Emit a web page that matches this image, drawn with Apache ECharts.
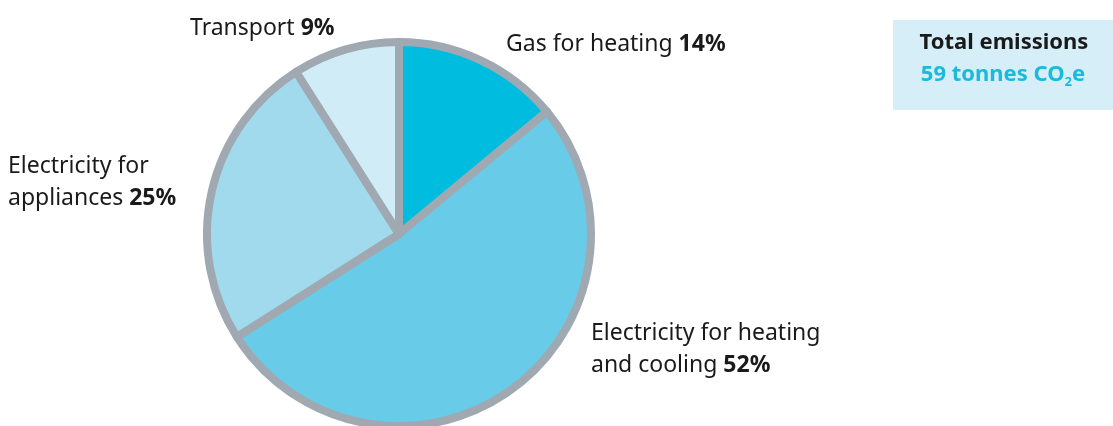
<!DOCTYPE html>
<html lang="en">
<head>
    <meta charset="UTF-8">
    <title>Emissions</title>
    <script src="https://cdn.jsdelivr.net/npm/echarts@6/dist/echarts.min.js"></script>
    <style>
        body { margin: 0; background: #fff; }
        #chart { width: 1113px; height: 426px; }
    </style>
</head>
<body>
    <div id="chart"></div>
    <script type="text/javascript">
        // data
        var names = ['Gas for heating', 'Electricity for heating\nand cooling', 'Electricity for\nappliances', 'Transport'];
        var shares = [14, 52, 25, 9];
        var colors = ['#00bde0', '#68cbe7', '#a1daed', '#d0ecf6'];
        var totalTitle = 'Total emissions';
        var totalValue = '59 tonnes CO';

        // label anchor points (left x, middle y)
        var labelPos = [[506, 44], [591, 349], [8, 182], [190, 28]];

        var font = '"Noto Sans", sans-serif';
        var chart = echarts.init(document.getElementById('chart'));

        chart.setOption({
            animation: false,
            series: [{
                type: 'pie',
                center: [399, 234],
                radius: [0, 192],
                startAngle: 90,
                clockwise: true,
                silent: true,
                data: names.map(function (n, i) {
                    return { name: n, value: shares[i], itemStyle: { color: colors[i] } };
                }),
                itemStyle: { borderColor: '#a0a9b1', borderWidth: 8 },
                labelLine: { show: false },
                label: {
                    show: true,
                    position: 'outside',
                    overflow: 'none',
                    width: 400,
                    formatter: function (p) { return p.name + ' {b|' + p.value + '%}'; },
                    fontFamily: font,
                    fontSize: 23,
                    color: '#1a1a1a',
                    lineHeight: 32,
                    rich: {
                        b: { fontFamily: font, fontSize: 23, fontWeight: 'bold', color: '#1a1a1a', lineHeight: 32 }
                    }
                },
                labelLayout: function (params) {
                    var p = labelPos[params.dataIndex];
                    return { x: p[0], y: p[1], align: 'left', verticalAlign: 'middle' };
                }
            }],
            graphic: [{
                type: 'rect',
                shape: { x: 893, y: 20, width: 220, height: 90 },
                style: { fill: '#d6eef7' }
            }, {
                type: 'text',
                x: 1004, y: 43,
                style: {
                    text: totalTitle,
                    font: 'bold 22px "Noto Sans", sans-serif',
                    fill: '#1a1a1a',
                    align: 'center', verticalAlign: 'middle'
                }
            }, {
                type: 'text',
                x: 1003, y: 75,
                style: {
                    text: totalValue + '{s|2}e',
                    font: 'bold 22px "Noto Sans", sans-serif',
                    fill: '#1ab9dd',
                    align: 'center', verticalAlign: 'middle',
                    rich: {
                        s: { font: 'bold 13px "Noto Sans", sans-serif', fill: '#1ab9dd', padding: [14, 0, 0, 0] }
                    }
                }
            }]
        });
    </script>
</body>
</html>
